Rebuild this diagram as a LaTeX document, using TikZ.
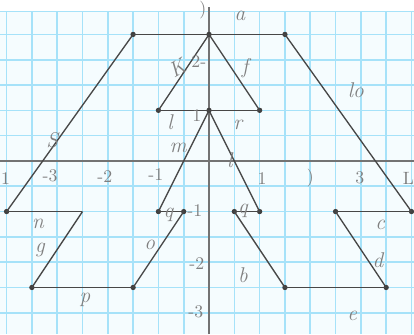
\documentclass[tikz,border=0pt]{standalone}
\begin{document}
\begin{tikzpicture}[
  x=1cm,y=1cm,
  gridline/.style={draw=cyan!35!white, line width=0.9pt},
  axisline/.style={draw=black!55, line width=0.8pt},
  seg/.style={draw=black!72, line width=0.75pt},
  vdot/.style={circle, fill=black!75, inner sep=0pt, minimum size=3pt},
  lbl/.style={text=black!50, font=\large\itshape, inner sep=0pt},
  tick/.style={text=black!50, font=\normalsize, inner sep=0pt}
]
\useasboundingbox (-4.13,-3.42) rectangle (4.05,3.18);
\fill[white] (-4.13,-3.42) rectangle (4.05,3.18);
\fill[cyan!4!white] (-4.13,-3.42) rectangle (4.05,2.95);
% grid
\foreach \gx in {-4,-3.5,...,4} {\draw[gridline] (\gx,-3.42) -- (\gx,2.95);}
\foreach \gy in {-3,-2.5,...,2.5} {\draw[gridline] (-4.13,\gy) -- (4.05,\gy);}
\draw[gridline] (-4.13,2.95) -- (4.05,2.95);
% axes
\coordinate (yt) at (0,3.05);
\coordinate (yb) at (0,-3.42);
\coordinate (xl) at (-4.13,0);
\coordinate (xr) at (4.05,0);
\draw[axisline] (yb) -- (yt);
\draw[axisline] (xl) -- (xr);

% vertices
\node[vdot] (A) at (-1.5,2.5) {};
\node[vdot] (T) at (0,2.5) {};
\node[vdot] (B) at (1.5,2.5) {};
\node[vdot] (C) at (-4,-1) {};
\node[vdot] (D) at (4,-1) {};
\node[vdot] (L1) at (-1,1) {};
\node[vdot] (M1) at (0,1) {};
\node[vdot] (R1) at (1,1) {};
\node[inner sep=0pt] (N1) at (-2.5,-1) {};
\node[vdot] (N2) at (-3.5,-2.5) {};
\node[vdot] (N3) at (-1.5,-2.5) {};
\node[vdot] (N4) at (-0.5,-1) {};
\node[vdot] (N5) at (-1,-1) {};
\node[vdot] (P1) at (1,-1) {};
\node[vdot] (P2) at (0.5,-1) {};
\node[vdot] (P3) at (1.5,-2.5) {};
\node[vdot] (P4) at (3.5,-2.5) {};
\node[vdot] (P5) at (2.5,-1) {};

% segments
\draw[seg] (A.center) -- (B.center);
\draw[seg] (A.center) -- (C.center);
\draw[seg] (B.center) -- (D.center);
\draw[seg] (L1.center) -- (R1.center);
\draw[seg] (L1.center) -- (T.center);
\draw[seg] (T.center) -- (R1.center);
\draw[seg] (C.center) -- (N1.center);
\draw[seg] (N1.center) -- (N2.center);
\draw[seg] (N2.center) -- (N3.center);
\draw[seg] (N3.center) -- (N4.center);
\draw[seg] (N4.center) -- (N5.center);
\draw[seg] (N5.center) -- (M1.center);
\draw[seg] (M1.center) -- (P1.center);
\draw[seg] (P1.center) -- (P2.center);
\draw[seg] (P2.center) -- (P3.center);
\draw[seg] (P3.center) -- (P4.center);
\draw[seg] (P4.center) -- (P5.center);
\draw[seg] (P5.center) -- (D.center);

% segment labels
\node[lbl] (la) at (0.61,2.87) {a};
\node[lbl] (lf) at (0.71,1.84) {f};
\node[lbl, rotate=30] (lk) at (-0.63,1.84) {K};
\node[lbl] (lh) at (2.9,1.4) {lo};
\node[lbl] (ls) at (-3.1,0.41) {S};
\node[lbl] (ll) at (-0.77,0.77) {l};
\node[lbl] (lr) at (0.57,0.71) {r};
\node[lbl] (lm) at (-0.61,0.26) {m};
\node[lbl] (ll2) at (0.41,0.02) {l};
\node[lbl] (ln) at (-3.38,-1.25) {n};
\node[lbl] (lg) at (-3.34,-1.76) {g};
\node[lbl] (lo) at (-1.17,-1.66) {o};
\node[lbl] (lp) at (-2.45,-2.75) {p};
\node[lbl] (lq1) at (-0.8,-1.06) {q};
\node[lbl] (lq2) at (0.67,-0.99) {q};
\node[lbl] (lb) at (0.67,-2.25) {b};
\node[lbl] (lc) at (3.38,-1.26) {c};
\node[lbl] (ld) at (3.34,-1.96) {d};
\node[lbl] (le) at (2.83,-3.06) {e};

% axis numbers
\node[tick] (xm3) at (-3.14,-0.3) {-3};
\node[tick] (xm2) at (-2.06,-0.3) {-2};
\node[tick] (xm1) at (-1.05,-0.26) {-1};
\node[tick] (xp1) at (1.05,-0.34) {1};
\node[tick] (xp2) at (2.0,-0.34) {)};
\node[tick] (xp3) at (2.98,-0.34) {3};
\node[tick] (xp4) at (3.94,-0.34) {L};
\node[tick] (xm4) at (-4.02,-0.34) {1};
\node[tick] (yp1) at (-0.24,0.9) {1};
\node[tick] (yp2) at (-0.2,1.96) {2-};
\node[tick] (yp3) at (-0.12,2.98) {)};
\node[tick] (ym1) at (-0.28,-0.98) {-1};
\node[tick] (ym2) at (-0.24,-2.02) {-2};
\node[tick] (ym3) at (-0.26,-2.98) {-3};
\end{tikzpicture}
\end{document}
